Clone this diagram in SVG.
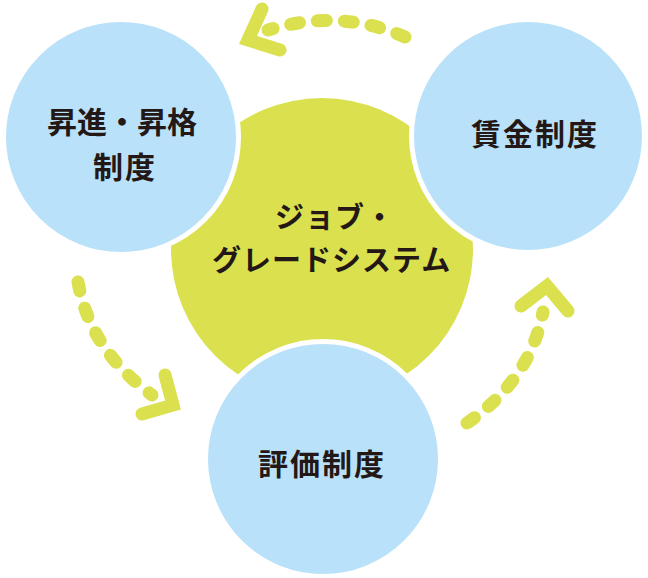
<svg xmlns="http://www.w3.org/2000/svg" width="648" height="578" viewBox="0 0 648 578">
<style>
.bg{fill:#ffffff}
.core{fill:#dae04e}
.node{fill:#b9e1fa;stroke:#ffffff;stroke-width:5}
.lbl{font-family:"Noto Sans CJK JP","Noto Sans CJK SC",sans-serif;font-weight:700;font-size:30px;fill:#231815;text-anchor:middle;letter-spacing:2px}
.kana{font-family:"Noto Sans CJK JP","Noto Sans CJK SC",sans-serif;font-weight:700;font-size:29px;fill:#231815;text-anchor:start;letter-spacing:1px}
.dash{fill:none;stroke:#dae04e;stroke-width:13;stroke-linecap:round;stroke-dasharray:9 18}
.head{fill:none;stroke:#dae04e;stroke-width:13;stroke-linecap:round;stroke-linejoin:miter;stroke-miterlimit:10}
</style>
<rect class="bg" x="0" y="0" width="648" height="578"/>
<g id="core">
<circle class="core" cx="322" cy="249" r="151"/>
<text class="kana" x="275" y="228">ジョブ・</text>
<text class="kana" x="212" y="271">グレードシステム</text>
</g>
<g id="node-promotion">
<circle class="node" cx="121" cy="137" r="117.5"/>
<text class="lbl" x="122" y="133" style="letter-spacing:0">昇進・昇格</text>
<text class="lbl" x="125" y="178">制度</text>
</g>
<g id="node-wage">
<circle class="node" cx="528" cy="136" r="116.5"/>
<text class="lbl" x="535" y="145">賃金制度</text>
</g>
<g id="node-evaluation">
<circle class="node" cx="323" cy="459" r="117.5"/>
<text class="lbl" x="322" y="475">評価制度</text>
</g>
<g id="connectors">
<path class="dash" d="M405,37 Q340,8 268,30"/>
<polyline class="head" points="262,9 248,40 280,50"/>
<path class="dash" d="M78,282 Q90,350 152,395"/>
<polyline class="head" points="165,375 173,405 142,414"/>
<path class="dash" d="M467,423 Q530,380 543,312"/>
<polyline class="head" points="521,306 547,286 568,311"/>
</g>
</svg>
